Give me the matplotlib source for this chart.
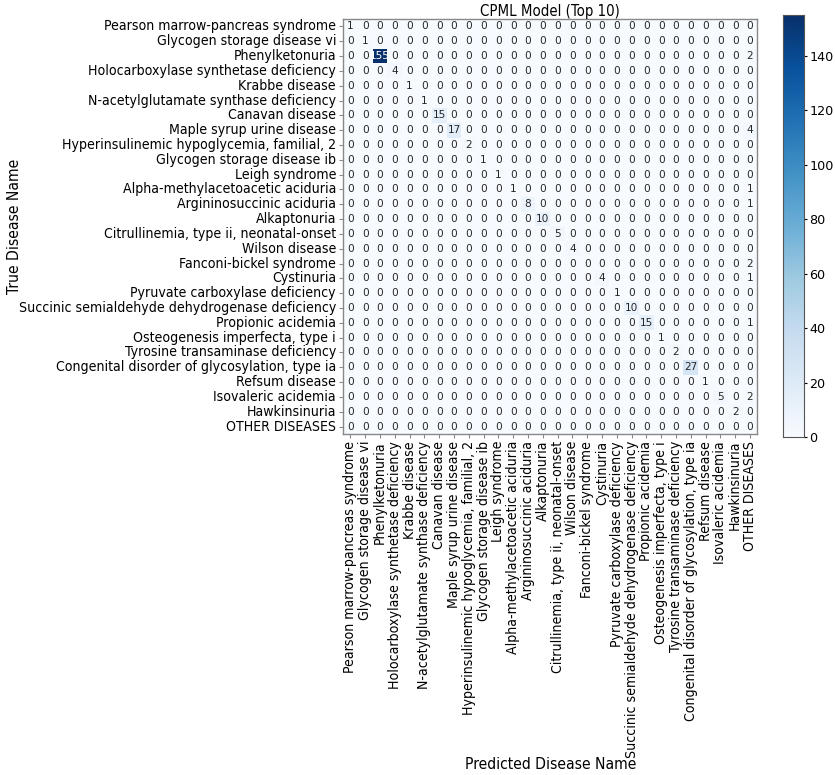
import numpy as np
import matplotlib
matplotlib.use("Agg")
import matplotlib.pyplot as plt
import matplotlib.transforms as mtransforms
from matplotlib import font_manager
import seaborn as sns

labels = [
    "Pearson marrow-pancreas syndrome", "Glycogen storage disease vi", "Phenylketonuria",
    "Holocarboxylase synthetase deficiency", "Krabbe disease", "N-acetylglutamate synthase deficiency",
    "Canavan disease", "Maple syrup urine disease", "Hyperinsulinemic hypoglycemia, familial, 2",
    "Glycogen storage disease ib", "Leigh syndrome", "Alpha-methylacetoacetic aciduria",
    "Argininosuccinic aciduria", "Alkaptonuria", "Citrullinemia, type ii, neonatal-onset",
    "Wilson disease", "Fanconi-bickel syndrome", "Cystinuria", "Pyruvate carboxylase deficiency",
    "Succinic semialdehyde dehydrogenase deficiency", "Propionic acidemia",
    "Osteogenesis imperfecta, type i", "Tyrosine transaminase deficiency",
    "Congenital disorder of glycosylation, type ia", "Refsum disease", "Isovaleric acidemia",
    "Hawkinsinuria", "OTHER DISEASES",
]

# diagonal (correct) counts per true class
diag_counts = [1, 1, 155, 4, 1, 1, 15, 17, 2, 1, 1, 1, 8, 10, 5, 4, 0, 4, 1, 10, 15, 1, 2, 27, 1, 5, 2, 0]
# counts predicted as OTHER DISEASES per true class
other_counts = [0, 0, 2, 0, 0, 0, 0, 4, 0, 0, 0, 1, 1, 0, 0, 0, 2, 1, 0, 0, 1, 0, 0, 0, 0, 2, 0, 0]

n = len(labels)
cm = np.zeros((n, n), dtype=int)
for i in range(n):
    cm[i, i] = diag_counts[i]
    if i != n - 1:
        cm[i, n - 1] = other_counts[i]

# use condensed DejaVu if available (closer to the reference's glyph proportions)
cond_path = font_manager.findfont(
    font_manager.FontProperties(family="DejaVu Sans", stretch="condensed"))
if "Condensed" in cond_path:
    stretch = "condensed"
    tick_fs, lab_fs, title_fs = 10.1, 11.2, 10.7
else:
    stretch = "normal"
    tick_fs, lab_fs, title_fs = 9.3, 10.2, 9.8

fig = plt.figure(figsize=(8.35, 7.75), dpi=100)
ax = fig.add_axes([0.4108, 0.44, 0.4963, 0.5355])
cax = fig.add_axes([0.9377, 0.4361, 0.0251, 0.5445])

sns.heatmap(cm, ax=ax, cbar_ax=cax, cmap="Blues", annot=True, fmt="d",
            annot_kws={"size": 7.6}, xticklabels=labels, yticklabels=labels,
            vmin=0, vmax=155)

for s in ax.spines.values():
    s.set_visible(True)
    s.set_color("#888888")
    s.set_linewidth(1)

ax.tick_params(axis="both", length=3, color="#888888", pad=2)
ax.set_xticklabels(labels, rotation=90, fontsize=tick_fs, fontstretch=stretch)
ax.set_yticklabels(labels, rotation=0, fontsize=tick_fs, fontstretch=stretch)
ax.set_title("CPML Model (Top 10)", fontsize=title_fs, fontstretch=stretch, pad=0)
ax.set_xlabel("Predicted Disease Name", fontsize=lab_fs, fontstretch=stretch)
ax.set_ylabel("True Disease Name", fontsize=lab_fs, fontstretch=stretch)

ax.xaxis.set_label_coords(0.5, 1 - 757 / 775,
                          transform=mtransforms.blended_transform_factory(ax.transAxes, fig.transFigure))
ax.yaxis.set_label_coords(22 / 835, 0.5,
                          transform=mtransforms.blended_transform_factory(fig.transFigure, ax.transAxes))

cax.set_yticks([0, 20, 40, 60, 80, 100, 120, 140])
cax.tick_params(labelsize=9.2, length=2.5, pad=1.5)
for s in cax.spines.values():
    s.set_visible(True)
    s.set_color("#555555")

fig.savefig("out.png", dpi=100)
